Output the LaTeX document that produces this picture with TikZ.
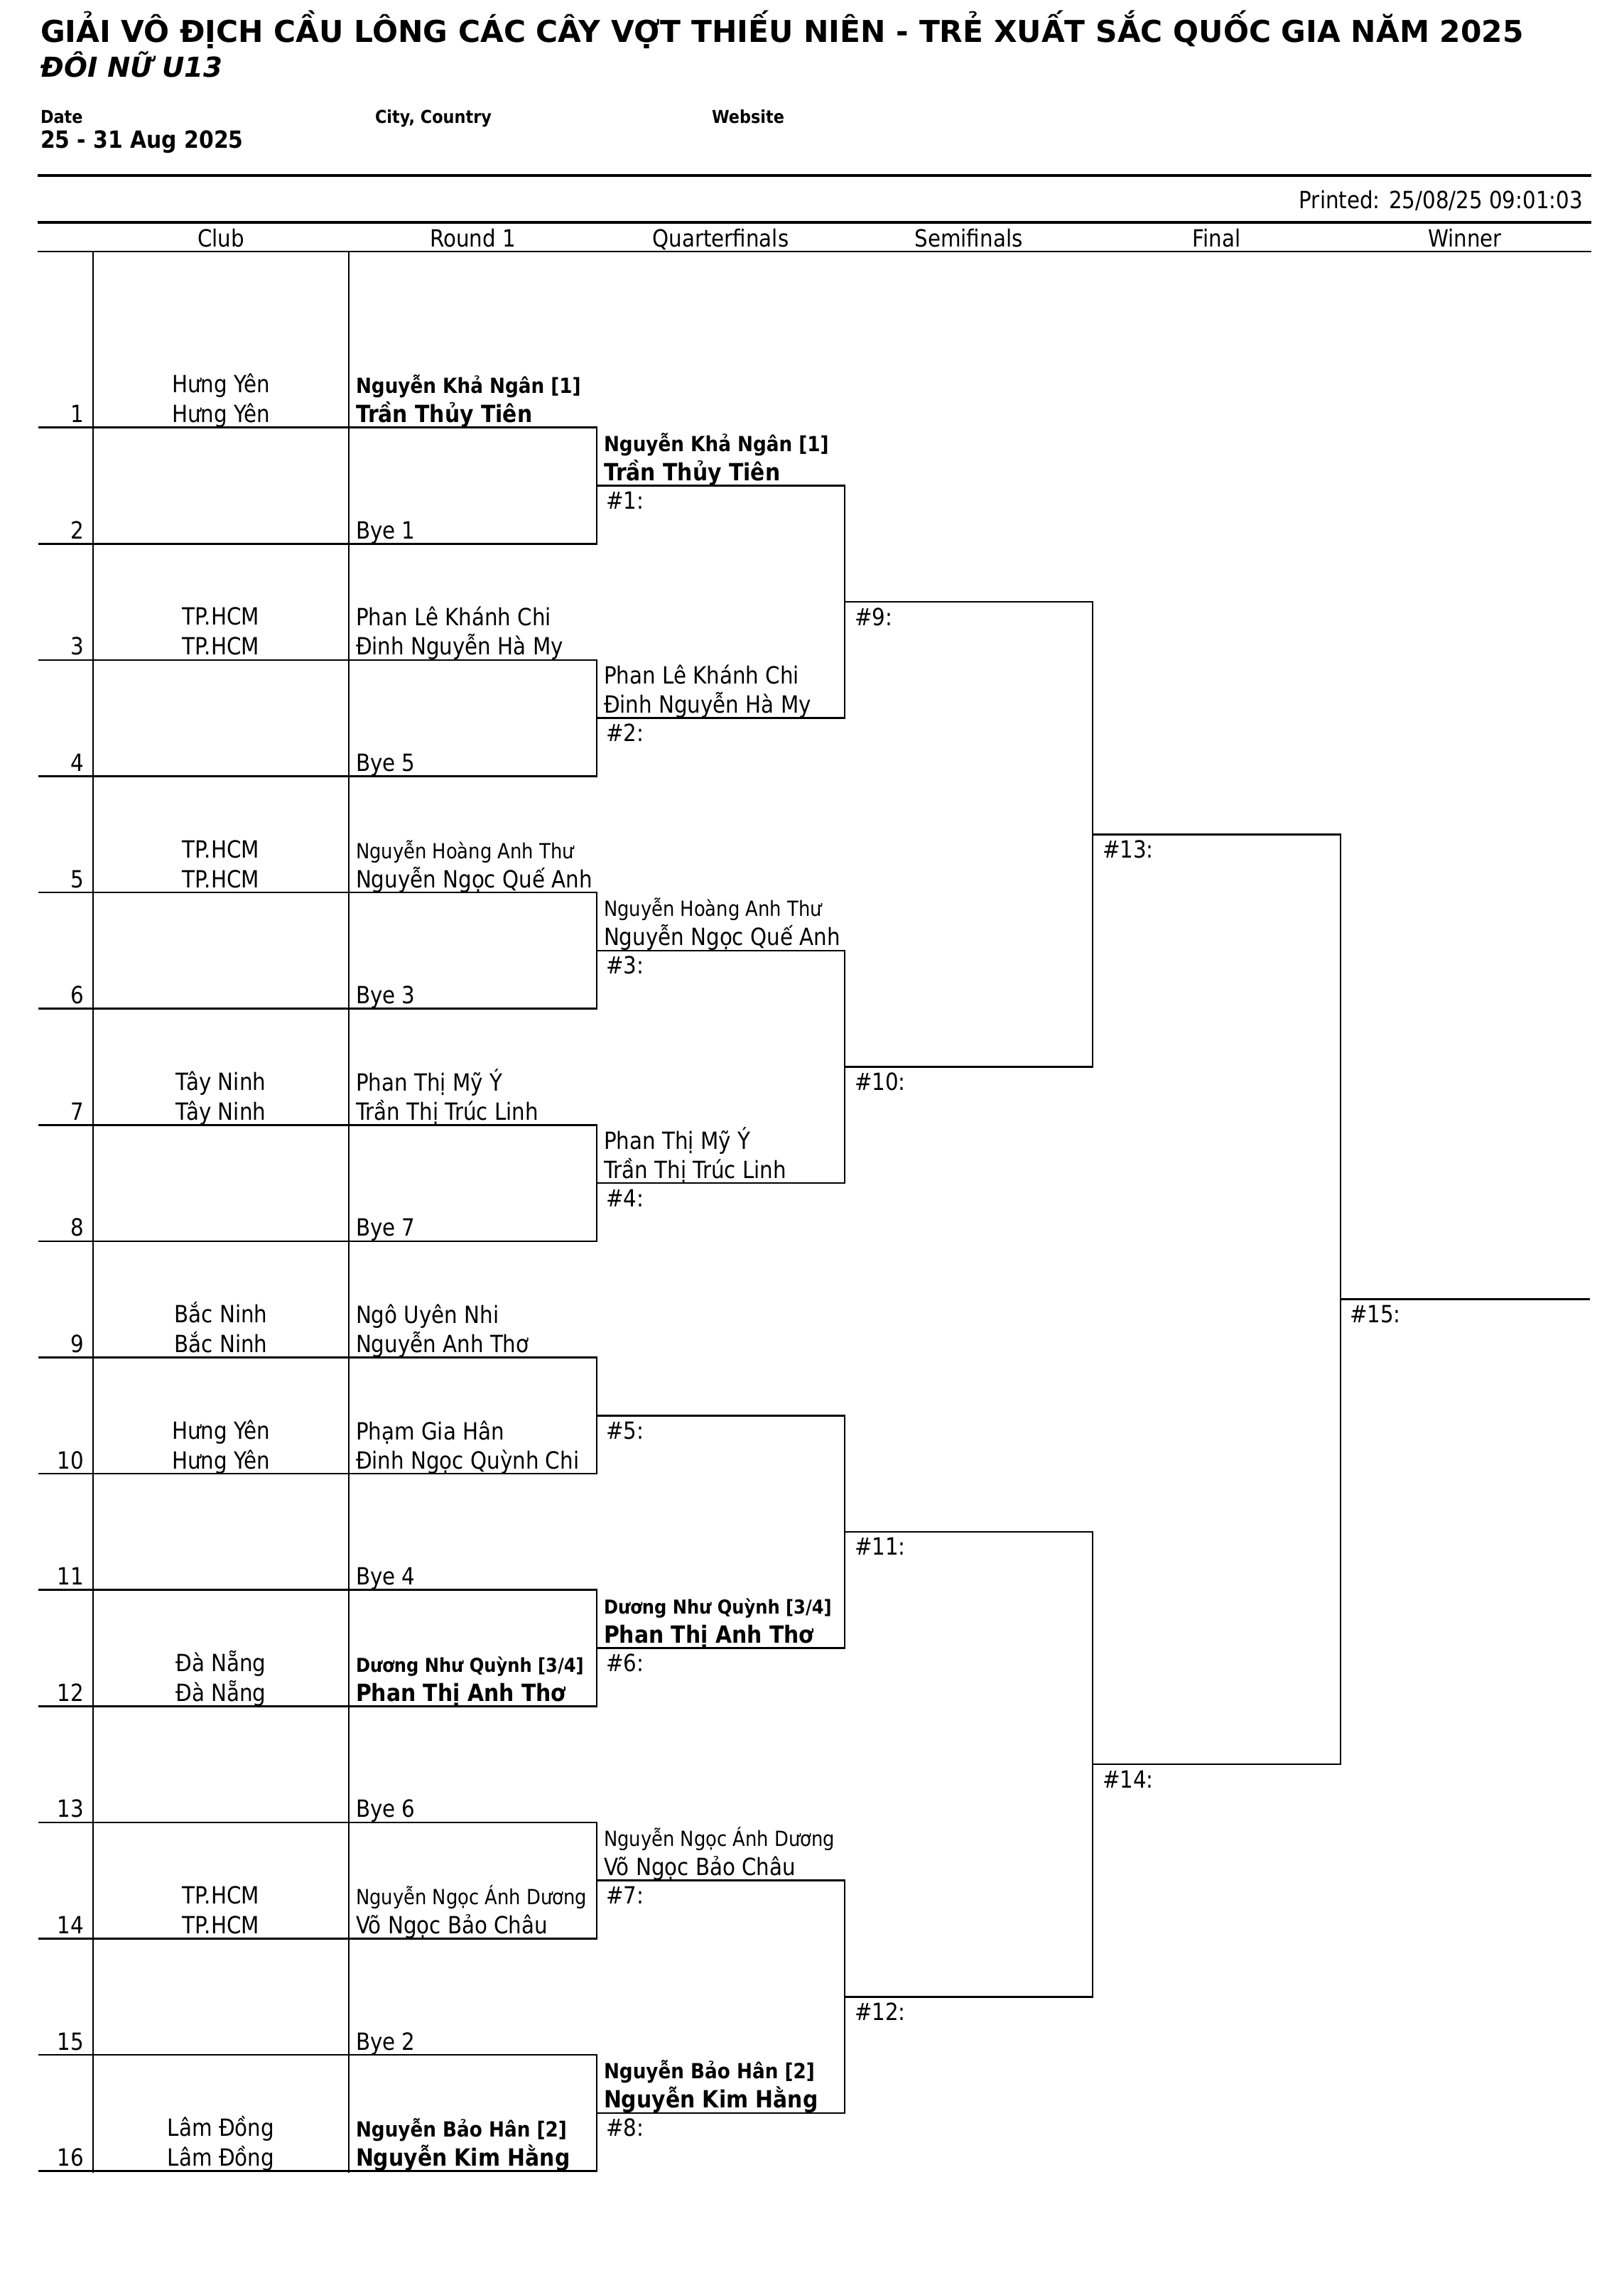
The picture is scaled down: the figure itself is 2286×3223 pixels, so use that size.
\documentclass[tikz,border=0pt]{standalone}
\usepackage{fontspec}
\setmainfont{DejaVu Sans}[FakeStretch=0.88,BoldFeatures={FakeStretch=0.895}]
\newfontfamily\titlefont{DejaVu Sans}
\newcommand\nmsize{\fontsize{10}{12}\selectfont}
\newcommand\smsize{\fontsize{8.8}{10.5}\selectfont}
\newcommand\xsmsize{\fontsize{8.1}{10}\selectfont}
\begin{document}
\begin{tikzpicture}[x=0.3pt,y=-0.3pt,
  txt/.style={inner sep=0pt,outer sep=0pt,font=\nmsize},
  thickrule/.style={line width=1.4pt},
  hrule/.style={line width=0.7pt},
  br/.style={line width=0.8pt,line cap=rect}]
\useasboundingbox (0,0) rectangle (2286,3223);
\fill[white] (0,0) rectangle (2286,3223);

% ---- header ----
\node[txt,anchor=base west,font={\fontsize{12.7}{15}\titlefont\bfseries}] (title) at (57,59)
  {GIẢI VÔ ĐỊCH CẦU LÔNG CÁC CÂY VỢT THIẾU NIÊN - TRẺ XUẤT SẮC QUỐC GIA NĂM 2025};
\node[txt,anchor=base west,font={\fontsize{11.6}{14}\titlefont\bfseries\itshape}] (event) at (58,108) {ĐÔI NỮ U13};
\node[txt,anchor=base west,font={\fontsize{7.5}{9}\selectfont\bfseries}] (datel) at (57,173) {Date};
\node[txt,anchor=base west,font={\fontsize{7.5}{9}\selectfont\bfseries}] (cityl) at (528,173) {City, Country};
\node[txt,anchor=base west,font={\fontsize{7.5}{9}\selectfont\bfseries}] (webl) at (1002,173) {Website};
\node[txt,anchor=base west,font={\nmsize\bfseries}] (datev) at (57,208) {25 - 31 Aug 2025};

\coordinate (t1l) at (53,247); \coordinate (t1r) at (2240,247);
\coordinate (t2l) at (53,313); \coordinate (t2r) at (2240,313);
\coordinate (t3l) at (53,354); \coordinate (t3r) at (2240,354);
\draw[thickrule] (t1l) -- (t1r);
\draw[thickrule] (t2l) -- (t2r);
\draw[hrule] (t3l) -- (t3r);
\node[txt,anchor=base east] (printed) at (2228,293) {Printed: 25/08/25 09:01:03};

\foreach \nm/\cx/\lab in {hclub/311/Club, hr1/665.5/Round 1, hqf/1014.5/Quarterfinals,
   hsf/1363.5/Semifinals, hfin/1712.5/Final, hwin/2062/Winner}
  \node[txt,anchor=base] (\nm) at (\cx,347) {\lab};

% ---- row lines ----
\foreach \i in {1,...,16} {
  \pgfmathsetmacro\R{601.7+(\i-1)*163.6}
  \coordinate (rl\i) at (55,\R);
  \coordinate (rr\i) at (840,\R);
  \draw[br] (rl\i) -- (rr\i);
  \node[txt,anchor=base east] (num\i) at (118,{\R-7}) {\i};
}
\coordinate (v1t) at (131,354); \coordinate (v1b) at (131,3056.7);
\coordinate (v2t) at (491,354); \coordinate (v2b) at (491,3056.7);
\draw[br] (v1t) -- (v1b);
\draw[br] (v2t) -- (v2b);

% ---- players ----
\foreach \i/\club/\pa/\pb in {
  1/{Hưng Yên}/{\smsize\bfseries Nguyễn Khả Ngân [1]}/{\bfseries Trần Thủy Tiên},
  3/{TP.HCM}/{Phan Lê Khánh Chi}/{Đinh Nguyễn Hà My},
  5/{TP.HCM}/{\smsize Nguyễn Hoàng Anh Thư}/{Nguyễn Ngọc Quế Anh},
  7/{Tây Ninh}/{Phan Thị Mỹ Ý}/{Trần Thị Trúc Linh},
  9/{Bắc Ninh}/{Ngô Uyên Nhi}/{Nguyễn Anh Thơ},
  10/{Hưng Yên}/{Phạm Gia Hân}/{Đinh Ngọc Quỳnh Chi},
  12/{Đà Nẵng}/{\xsmsize\bfseries Dương Như Quỳnh [3/4]}/{\bfseries Phan Thị Anh Thơ},
  14/{TP.HCM}/{\smsize Nguyễn Ngọc Ánh Dương}/{Võ Ngọc Bảo Châu},
  16/{Lâm Đồng}/{\smsize\bfseries Nguyễn Bảo Hân [2]}/{\bfseries Nguyễn Kim Hằng}} {
  \pgfmathsetmacro\R{601.7+(\i-1)*163.6}
  \node[txt,anchor=base] (clubA\i) at (311,{\R-49}) {\club};
  \node[txt,anchor=base] (clubB\i) at (311,{\R-7}) {\club};
  \node[txt,anchor=base west] (plA\i) at (501,{\R-48}) {\pa};
  \node[txt,anchor=base west] (plB\i) at (501,{\R-7}) {\pb};
}
\foreach \i/\b in {2/1,4/5,6/3,8/7,11/4,13/6,15/2} {
  \pgfmathsetmacro\R{601.7+(\i-1)*163.6}
  \node[txt,anchor=base west] (bye\i) at (501,{\R-7}) {Bye \b};
}

% ---- quarterfinals ----
\foreach \k in {1,...,8} {
  \pgfmathtruncatemacro\a{2*\k-1}
  \pgfmathtruncatemacro\b{2*\k}
  \pgfmathsetmacro\Q{601.7+(2*\k-1.5)*163.6}
  \draw[br] (rr\a) -- (rr\b);
  \coordinate (qa\k) at (840,\Q);
  \coordinate (qb\k) at (1189,\Q);
  \draw[br] (qa\k) -- (qb\k);
  \node[txt,anchor=base west] (qlab\k) at (853,{\Q+33}) {\#\k:};
}
\foreach \k/\wa/\wb in {
  1/{\smsize\bfseries Nguyễn Khả Ngân [1]}/{\bfseries Trần Thủy Tiên},
  2/{Phan Lê Khánh Chi}/{Đinh Nguyễn Hà My},
  3/{\smsize Nguyễn Hoàng Anh Thư}/{Nguyễn Ngọc Quế Anh},
  4/{Phan Thị Mỹ Ý}/{Trần Thị Trúc Linh},
  6/{\xsmsize\bfseries Dương Như Quỳnh [3/4]}/{\bfseries Phan Thị Anh Thơ},
  7/{\smsize Nguyễn Ngọc Ánh Dương}/{Võ Ngọc Bảo Châu},
  8/{\smsize\bfseries Nguyễn Bảo Hân [2]}/{\bfseries Nguyễn Kim Hằng}} {
  \pgfmathsetmacro\Q{601.7+(2*\k-1.5)*163.6}
  \node[txt,anchor=base west] (qwA\k) at (850,{\Q-48}) {\wa};
  \node[txt,anchor=base west] (qwB\k) at (850,{\Q-7}) {\wb};
}

% ---- semifinals ----
\foreach \m in {1,...,4} {
  \pgfmathtruncatemacro\a{2*\m-1}
  \pgfmathtruncatemacro\b{2*\m}
  \pgfmathtruncatemacro\lab{\m+8}
  \pgfmathsetmacro\S{601.7+(4*\m-2.5)*163.6}
  \draw[br] (qb\a) -- (qb\b);
  \coordinate (sa\m) at (1189,\S);
  \coordinate (sb\m) at (1538,\S);
  \draw[br] (sa\m) -- (sb\m);
  \node[txt,anchor=base west] (slab\m) at (1203,{\S+33}) {\#\lab:};
}

% ---- final ----
\foreach \n in {1,2} {
  \pgfmathtruncatemacro\a{2*\n-1}
  \pgfmathtruncatemacro\b{2*\n}
  \pgfmathtruncatemacro\lab{\n+12}
  \pgfmathsetmacro\F{601.7+(8*\n-4.5)*163.6}
  \draw[br] (sb\a) -- (sb\b);
  \coordinate (fa\n) at (1538,\F);
  \coordinate (fb\n) at (1887,\F);
  \draw[br] (fa\n) -- (fb\n);
  \node[txt,anchor=base west] (flab\n) at (1552,{\F+33}) {\#\lab:};
}

% ---- winner ----
\pgfmathsetmacro\W{601.7+7.5*163.6}
\draw[br] (fb1) -- (fb2);
\coordinate (wa) at (1887,\W);
\coordinate (wb) at (2237,\W);
\draw[br] (wa) -- (wb);
\node[txt,anchor=base west] (wlab) at (1900,{\W+33}) {\#15:};
\end{tikzpicture}
\end{document}
